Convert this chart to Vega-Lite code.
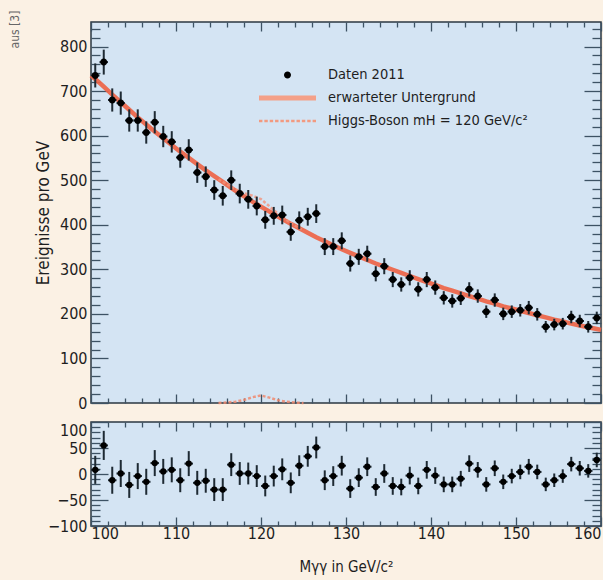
{
  "$schema": "https://vega.github.io/schema/vega-lite/v6.json",
  "background": "#fbf1e4",
  "padding": {"left": 8, "top": 10, "right": 3, "bottom": 5},
  "title": {"text": "aus [3]", "orient": "left", "anchor": "end", "fontSize": 12, "color": "#666666", "font": "DejaVu Sans Condensed, DejaVu Sans, sans-serif", "fontWeight": "normal", "offset": 12, "dx": 10},
  "spacing": 8,
  "datasets": {
    "bins": [
      {"m": 100.5, "lo": 100, "hi": 101, "n": 735, "err": 27, "res": 8},
      {"m": 101.5, "lo": 101, "hi": 102, "n": 765, "err": 28, "res": 55},
      {"m": 102.5, "lo": 102, "hi": 103, "n": 680, "err": 26, "res": -12},
      {"m": 103.5, "lo": 103, "hi": 104, "n": 673, "err": 26, "res": 1},
      {"m": 104.5, "lo": 104, "hi": 105, "n": 634, "err": 25, "res": -21},
      {"m": 105.5, "lo": 105, "hi": 106, "n": 634, "err": 25, "res": -4},
      {"m": 106.5, "lo": 106, "hi": 107, "n": 607, "err": 25, "res": -15},
      {"m": 107.5, "lo": 107, "hi": 108, "n": 630, "err": 25, "res": 21},
      {"m": 108.5, "lo": 108, "hi": 109, "n": 598, "err": 24, "res": 5},
      {"m": 109.5, "lo": 109, "hi": 110, "n": 586, "err": 24, "res": 8},
      {"m": 110.5, "lo": 110, "hi": 111, "n": 551, "err": 23, "res": -12},
      {"m": 111.5, "lo": 111, "hi": 112, "n": 568, "err": 24, "res": 20},
      {"m": 112.5, "lo": 112, "hi": 113, "n": 517, "err": 23, "res": -17},
      {"m": 113.5, "lo": 113, "hi": 114, "n": 508, "err": 23, "res": -13},
      {"m": 114.5, "lo": 114, "hi": 115, "n": 478, "err": 22, "res": -30},
      {"m": 115.5, "lo": 115, "hi": 116, "n": 465, "err": 22, "res": -30},
      {"m": 116.5, "lo": 116, "hi": 117, "n": 500, "err": 22, "res": 18},
      {"m": 117.5, "lo": 117, "hi": 118, "n": 470, "err": 22, "res": 1},
      {"m": 118.5, "lo": 118, "hi": 119, "n": 457, "err": 21, "res": 1},
      {"m": 119.5, "lo": 119, "hi": 120, "n": 442, "err": 21, "res": -4},
      {"m": 120.5, "lo": 120, "hi": 121, "n": 411, "err": 20, "res": -23},
      {"m": 121.5, "lo": 121, "hi": 122, "n": 420, "err": 20, "res": -4},
      {"m": 122.5, "lo": 122, "hi": 123, "n": 422, "err": 21, "res": 9},
      {"m": 123.5, "lo": 123, "hi": 124, "n": 384, "err": 20, "res": -17},
      {"m": 124.5, "lo": 124, "hi": 125, "n": 410, "err": 20, "res": 16},
      {"m": 125.5, "lo": 125, "hi": 126, "n": 418, "err": 20, "res": 34},
      {"m": 126.5, "lo": 126, "hi": 127, "n": 425, "err": 21, "res": 51},
      {"m": 127.5, "lo": 127, "hi": 128, "n": 351, "err": 19, "res": -12},
      {"m": 128.5, "lo": 128, "hi": 129, "n": 351, "err": 19, "res": -4},
      {"m": 129.5, "lo": 129, "hi": 130, "n": 364, "err": 19, "res": 16},
      {"m": 130.5, "lo": 130, "hi": 131, "n": 313, "err": 18, "res": -28},
      {"m": 131.5, "lo": 131, "hi": 132, "n": 328, "err": 18, "res": -7},
      {"m": 132.5, "lo": 132, "hi": 133, "n": 335, "err": 18, "res": 14},
      {"m": 133.5, "lo": 133, "hi": 134, "n": 290, "err": 17, "res": -25},
      {"m": 134.5, "lo": 134, "hi": 135, "n": 307, "err": 18, "res": 1},
      {"m": 135.5, "lo": 135, "hi": 136, "n": 277, "err": 17, "res": -23},
      {"m": 136.5, "lo": 136, "hi": 137, "n": 266, "err": 16, "res": -25},
      {"m": 137.5, "lo": 137, "hi": 138, "n": 281, "err": 17, "res": -3},
      {"m": 138.5, "lo": 138, "hi": 139, "n": 255, "err": 16, "res": -23},
      {"m": 139.5, "lo": 139, "hi": 140, "n": 277, "err": 17, "res": 8},
      {"m": 140.5, "lo": 140, "hi": 141, "n": 259, "err": 16, "res": -3},
      {"m": 141.5, "lo": 141, "hi": 142, "n": 236, "err": 15, "res": -20},
      {"m": 142.5, "lo": 142, "hi": 143, "n": 229, "err": 15, "res": -20},
      {"m": 143.5, "lo": 143, "hi": 144, "n": 235, "err": 15, "res": -9},
      {"m": 144.5, "lo": 144, "hi": 145, "n": 255, "err": 16, "res": 20},
      {"m": 145.5, "lo": 145, "hi": 146, "n": 240, "err": 15, "res": 8},
      {"m": 146.5, "lo": 146, "hi": 147, "n": 205, "err": 14, "res": -20},
      {"m": 147.5, "lo": 147, "hi": 148, "n": 231, "err": 15, "res": 11},
      {"m": 148.5, "lo": 148, "hi": 149, "n": 200, "err": 14, "res": -15},
      {"m": 149.5, "lo": 149, "hi": 150, "n": 205, "err": 14, "res": -4},
      {"m": 150.5, "lo": 150, "hi": 151, "n": 208, "err": 14, "res": 4},
      {"m": 151.5, "lo": 151, "hi": 152, "n": 214, "err": 15, "res": 14},
      {"m": 152.5, "lo": 152, "hi": 153, "n": 199, "err": 14, "res": 4},
      {"m": 153.5, "lo": 153, "hi": 154, "n": 171, "err": 13, "res": -20},
      {"m": 154.5, "lo": 154, "hi": 155, "n": 176, "err": 13, "res": -12},
      {"m": 155.5, "lo": 155, "hi": 156, "n": 178, "err": 13, "res": -4},
      {"m": 156.5, "lo": 156, "hi": 157, "n": 193, "err": 14, "res": 19},
      {"m": 157.5, "lo": 157, "hi": 158, "n": 184, "err": 14, "res": 11},
      {"m": 158.5, "lo": 158, "hi": 159, "n": 171, "err": 13, "res": 6},
      {"m": 159.5, "lo": 159, "hi": 160, "n": 191, "err": 14, "res": 27}
    ],
    "fit": [
      {"m": 100, "n": 735}, {"m": 100.5, "n": 727}, {"m": 101.5, "n": 710}, {"m": 102.5, "n": 692},
      {"m": 103.5, "n": 675}, {"m": 104.5, "n": 658}, {"m": 105.5, "n": 641}, {"m": 106.5, "n": 625},
      {"m": 107.5, "n": 609}, {"m": 108.5, "n": 594}, {"m": 109.5, "n": 579}, {"m": 110.5, "n": 564},
      {"m": 111.5, "n": 550}, {"m": 112.5, "n": 536}, {"m": 113.5, "n": 522}, {"m": 114.5, "n": 509},
      {"m": 115.5, "n": 496}, {"m": 116.5, "n": 483}, {"m": 117.5, "n": 470}, {"m": 118.5, "n": 458},
      {"m": 119.5, "n": 446}, {"m": 120.5, "n": 435}, {"m": 121.5, "n": 424}, {"m": 122.5, "n": 413},
      {"m": 123.5, "n": 402}, {"m": 124.5, "n": 392}, {"m": 125.5, "n": 382}, {"m": 126.5, "n": 372},
      {"m": 127.5, "n": 363}, {"m": 128.5, "n": 354}, {"m": 129.5, "n": 345}, {"m": 130.5, "n": 337},
      {"m": 131.5, "n": 329}, {"m": 132.5, "n": 321}, {"m": 133.5, "n": 313}, {"m": 134.5, "n": 306},
      {"m": 135.5, "n": 299}, {"m": 136.5, "n": 292}, {"m": 137.5, "n": 285}, {"m": 138.5, "n": 278},
      {"m": 139.5, "n": 271}, {"m": 140.5, "n": 265}, {"m": 141.5, "n": 258}, {"m": 142.5, "n": 252},
      {"m": 143.5, "n": 246}, {"m": 144.5, "n": 240}, {"m": 145.5, "n": 234}, {"m": 146.5, "n": 228},
      {"m": 147.5, "n": 223}, {"m": 148.5, "n": 217}, {"m": 149.5, "n": 212}, {"m": 150.5, "n": 207},
      {"m": 151.5, "n": 202}, {"m": 152.5, "n": 197}, {"m": 153.5, "n": 192}, {"m": 154.5, "n": 187},
      {"m": 155.5, "n": 183}, {"m": 156.5, "n": 178}, {"m": 157.5, "n": 174}, {"m": 158.5, "n": 170},
      {"m": 159.5, "n": 166}, {"m": 160, "n": 164}
    ],
    "sig": [
      {"m": 115, "n": 0}, {"m": 116, "n": 1}, {"m": 117, "n": 3}, {"m": 118, "n": 7}, {"m": 119, "n": 13},
      {"m": 120, "n": 17}, {"m": 121, "n": 12}, {"m": 122, "n": 6}, {"m": 123, "n": 3}, {"m": 124, "n": 1}, {"m": 125, "n": 0}
    ],
    "sigbg": [
      {"m": 115, "n": 502}, {"m": 116, "n": 490.5}, {"m": 117, "n": 479.5}, {"m": 118, "n": 471}, {"m": 119, "n": 465},
      {"m": 120, "n": 457.5}, {"m": 121, "n": 441.5}, {"m": 122, "n": 424.5}, {"m": 123, "n": 410.5}, {"m": 124, "n": 398}, {"m": 125, "n": 387}
    ]
  },
  "vconcat": [
    {
      "width": 510,
      "height": 381,
      "layer": [
        {
          "data": {"name": "fit"},
          "mark": {"type": "line", "color": "#ee6446", "strokeWidth": 4.5, "opacity": 0.92},
          "encoding": {
            "x": {"field": "m", "type": "quantitative", "scale": {"domain": [100, 160], "nice": false, "zero": false},
              "axis": {"orient": "bottom", "values": [100,102,104,106,108,110,112,114,116,118,120,122,124,126,128,130,132,134,136,138,140,142,144,146,148,150,152,154,156,158,160],
                "labels": false, "title": null,
                "tickSize": {"condition": {"test": "datum.value % 10 === 0", "value": -9}, "value": -5}}},
            "y": {"field": "n", "type": "quantitative", "scale": {"domain": [0, 855], "nice": false, "zero": false},
              "axis": {"orient": "left", "values": [0,20,40,60,80,100,120,140,160,180,200,220,240,260,280,300,320,340,360,380,400,420,440,460,480,500,520,540,560,580,600,620,640,660,680,700,720,740,760,780,800,820,840],
                "tickSize": {"condition": {"test": "datum.value % 100 === 0", "value": -17}, "value": -9},
                "labelExpr": "datum.value % 100 === 0 ? datum.label : ''",
                "labelPadding": 21,
                "title": "Ereignisse pro GeV", "titlePadding": 7}}
          }
        },
        {
          "data": {"name": "sigbg"},
          "mark": {"type": "line", "color": "#f3927a", "strokeWidth": 2.5, "strokeDash": [3, 2], "opacity": 0.8},
          "encoding": {
            "x": {"field": "m", "type": "quantitative", "scale": {"domain": [100, 160], "nice": false, "zero": false}, "axis": null},
            "y": {"field": "n", "type": "quantitative", "scale": {"domain": [0, 855], "nice": false, "zero": false}, "axis": null}
          }
        },
        {
          "data": {"name": "sig"},
          "mark": {"type": "line", "color": "#f08a6e", "strokeWidth": 2.5, "strokeDash": [3, 2], "opacity": 0.85},
          "encoding": {
            "x": {"field": "m", "type": "quantitative", "scale": {"domain": [100, 160], "nice": false, "zero": false}, "axis": null},
            "y": {"field": "n", "type": "quantitative", "scale": {"domain": [0, 855], "nice": false, "zero": false}, "axis": null}
          }
        },
        {
          "data": {"name": "bins"},
          "mark": {"type": "errorbar", "color": "#1e2a33", "thickness": 2},
          "encoding": {
            "x": {"field": "m", "type": "quantitative", "scale": {"domain": [100, 160], "nice": false, "zero": false}, "axis": null},
            "y": {"field": "n", "type": "quantitative", "scale": {"domain": [0, 855], "nice": false, "zero": false}, "axis": null},
            "yError": {"field": "err"}
          }
        },
        {
          "data": {"name": "bins"},
          "mark": {"type": "rule", "color": "#1e2a33", "strokeWidth": 2},
          "encoding": {
            "x": {"field": "lo", "type": "quantitative", "scale": {"domain": [100, 160], "nice": false, "zero": false}, "axis": null},
            "x2": {"field": "hi"},
            "y": {"field": "n", "type": "quantitative", "scale": {"domain": [0, 855], "nice": false, "zero": false}, "axis": null}
          }
        },
        {
          "data": {"name": "bins"},
          "mark": {"type": "point", "filled": true, "size": 3249, "opacity": 1, "strokeWidth": 0},
          "encoding": {
            "x": {"field": "m", "type": "quantitative", "scale": {"domain": [100, 160], "nice": false, "zero": false},
              "axis": {"orient": "top", "values": [100,102,104,106,108,110,112,114,116,118,120,122,124,126,128,130,132,134,136,138,140,142,144,146,148,150,152,154,156,158,160],
                "labels": false, "title": null,
                "tickSize": {"condition": {"test": "datum.value % 10 === 0", "value": -9}, "value": -5}}},
            "y": {"field": "n", "type": "quantitative", "scale": {"domain": [0, 855], "nice": false, "zero": false},
              "axis": {"orient": "right", "values": [0,20,40,60,80,100,120,140,160,180,200,220,240,260,280,300,320,340,360,380,400,420,440,460,480,500,520,540,560,580,600,620,640,660,680,700,720,740,760,780,800,820,840],
                "labels": false, "title": null,
                "tickSize": {"condition": {"test": "datum.value % 100 === 0", "value": -17}, "value": -9}}},
            "color": {
              "datum": "Daten 2011", "type": "nominal",
              "scale": {"domain": ["Daten 2011", "erwarteter Untergrund", "Higgs-Boson mH = 120 GeV/c²"], "range": ["#000000", "#f4a088", "#f29a80"]},
              "legend": {
                "orient": "none", "legendX": 168, "legendY": 44, "title": null,
                "symbolSize": 3249, "symbolStrokeWidth": 0, "labelOffset": 12, "clipHeight": 18, "rowPadding": 5, "padding": 0,
                "labelFontSize": 14.5, "labelLimit": 400, "labelColor": "#1e1e1e"
              }
            },
            "shape": {
              "datum": "Daten 2011", "type": "nominal",
              "scale": {"domain": ["Daten 2011", "erwarteter Untergrund", "Higgs-Boson mH = 120 GeV/c²"],
                "range": [
                  "M-0.123,0A0.123,0.123,0,1,1,0.123,0A0.123,0.123,0,1,1,-0.123,0Z",
                  "M-1,-0.088H1V0.088H-1Z",
                  "M-1,-0.045h0.12v0.09h-0.12zM-0.812,-0.045h0.12v0.09h-0.12zM-0.624,-0.045h0.12v0.09h-0.12zM-0.436,-0.045h0.12v0.09h-0.12zM-0.248,-0.045h0.12v0.09h-0.12zM-0.06,-0.045h0.12v0.09h-0.12zM0.128,-0.045h0.12v0.09h-0.12zM0.316,-0.045h0.12v0.09h-0.12zM0.504,-0.045h0.12v0.09h-0.12zM0.692,-0.045h0.12v0.09h-0.12zM0.88,-0.045h0.12v0.09h-0.12z"
                ]},
              "legend": {
                "orient": "none", "legendX": 168, "legendY": 44, "title": null,
                "symbolSize": 3249, "symbolStrokeWidth": 0, "labelOffset": 12, "clipHeight": 18, "rowPadding": 5, "padding": 0,
                "labelFontSize": 14.5, "labelLimit": 400, "labelColor": "#1e1e1e"
              }
            }
          }
        }
      ],
      "resolve": {"axis": {"x": "independent", "y": "independent"}}
    },
    {
      "width": 510,
      "height": 104,
      "layer": [
        {
          "mark": {"type": "rule", "color": "#f39b84", "strokeWidth": 5},
          "encoding": {
            "y": {"datum": 0, "type": "quantitative", "scale": {"domain": [-100, 100], "nice": false, "zero": false}, "axis": null}
          }
        },
        {
          "data": {"name": "bins"},
          "mark": {"type": "errorbar", "color": "#1e2a33", "thickness": 2},
          "encoding": {
            "x": {"field": "m", "type": "quantitative", "scale": {"domain": [100, 160], "nice": false, "zero": false},
              "axis": {"orient": "bottom", "values": [100,102,104,106,108,110,112,114,116,118,120,122,124,126,128,130,132,134,136,138,140,142,144,146,148,150,152,154,156,158,160],
                "labelExpr": "datum.value % 10 === 0 ? datum.label : ''",
                "labelFlush": true, "labelPadding": 8,
                "title": "Mγγ in GeV/c²", "titlePadding": 18, "titleFontSize": 15,
                "tickSize": {"condition": {"test": "datum.value % 10 === 0", "value": -9}, "value": -5}}},
            "y": {"field": "res", "type": "quantitative", "scale": {"domain": [-100, 100], "nice": false, "zero": false},
              "axis": {"orient": "left", "values": [-100,-90,-80,-70,-60,-50,-40,-30,-20,-10,0,10,20,30,40,50,60,70,80,90,100],
                "tickSize": {"condition": {"test": "datum.value % 50 === 0", "value": -17}, "value": -9},
                "labelExpr": "datum.value % 50 === 0 ? datum.label : ''",
                "labelBaseline": {"condition": {"test": "datum.value === 100", "value": "top"}, "value": "middle"},
                "labelPadding": 21, "title": null}},
            "yError": {"field": "err"}
          }
        },
        {
          "data": {"name": "bins"},
          "mark": {"type": "rule", "color": "#1e2a33", "strokeWidth": 2},
          "encoding": {
            "x": {"field": "lo", "type": "quantitative", "scale": {"domain": [100, 160], "nice": false, "zero": false}, "axis": null},
            "x2": {"field": "hi"},
            "y": {"field": "res", "type": "quantitative", "scale": {"domain": [-100, 100], "nice": false, "zero": false}, "axis": null}
          }
        },
        {
          "data": {"name": "bins"},
          "mark": {"type": "circle", "size": 40, "opacity": 1, "color": "#000000"},
          "encoding": {
            "x": {"field": "m", "type": "quantitative", "scale": {"domain": [100, 160], "nice": false, "zero": false},
              "axis": {"orient": "top", "values": [100,102,104,106,108,110,112,114,116,118,120,122,124,126,128,130,132,134,136,138,140,142,144,146,148,150,152,154,156,158,160],
                "labels": false, "title": null,
                "tickSize": {"condition": {"test": "datum.value % 10 === 0", "value": -9}, "value": -5}}},
            "y": {"field": "res", "type": "quantitative", "scale": {"domain": [-100, 100], "nice": false, "zero": false},
              "axis": {"orient": "right", "values": [-100,-90,-80,-70,-60,-50,-40,-30,-20,-10,0,10,20,30,40,50,60,70,80,90,100],
                "labels": false, "title": null,
                "tickSize": {"condition": {"test": "datum.value % 50 === 0", "value": -17}, "value": -9}}}
          }
        }
      ],
      "resolve": {"axis": {"x": "independent", "y": "independent"}}
    }
  ],
  "resolve": {"scale": {"color": "independent", "shape": "independent"}, "legend": {"color": "independent", "shape": "independent"}},
  "config": {
    "font": "DejaVu Sans Condensed, DejaVu Sans, sans-serif",
    "view": {"fill": "#d4e4f3", "stroke": "#2b3742", "strokeWidth": 1.5},
    "axis": {
      "domain": false, "grid": false, "tickColor": "#3d5264", "tickWidth": 1.3,
      "labelFont": "DejaVu Sans Condensed, DejaVu Sans, sans-serif", "labelFontSize": 16, "labelColor": "#1e1e1e",
      "titleFont": "DejaVu Sans Condensed, DejaVu Sans, sans-serif", "titleFontSize": 17, "titleFontWeight": "normal", "titleColor": "#1e1e1e"
    },
    "legend": {"labelFont": "DejaVu Sans Condensed, DejaVu Sans, sans-serif"}
  }
}
